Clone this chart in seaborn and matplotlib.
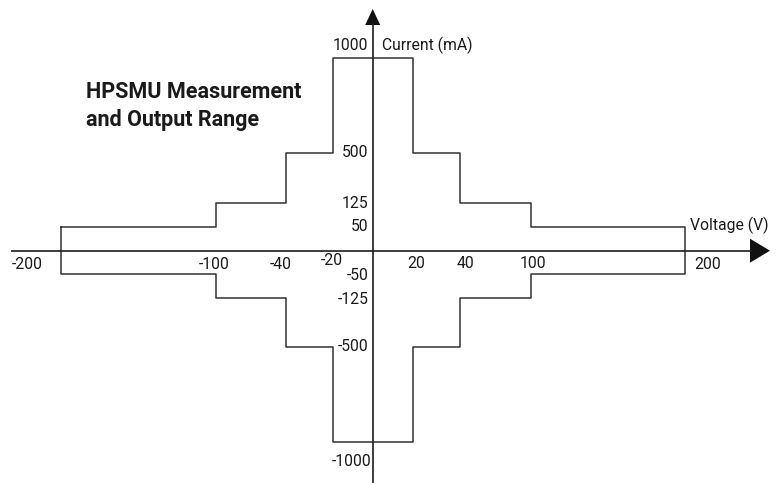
import numpy as np
import pandas as pd
import matplotlib
matplotlib.use("Agg")
import matplotlib.pyplot as plt
import matplotlib.patches as mpatches
import seaborn as sns

# ---------------- data ----------------
voltage_steps = [20, 40, 100, 200]          # V, range boundaries
current_limits = [1000, 500, 125, 50]       # mA, max current in each range
x_tick_labels = ["-200", "-100", "-40", "-20", "20", "40", "100", "200"]
x_tick_values = [-200, -100, -40, -20, 20, 40, 100, 200]
y_tick_labels = ["1000", "500", "125", "50", "-50", "-125", "-500", "-1000"]
y_tick_values = [1000, 500, 125, 50, -50, -125, -500, -1000]
title_text = "HPSMU Measurement\nand Output Range"
x_axis_label = "Voltage (V)"
y_axis_label = "Current (mA)"

# ---------------- build outline polygon from the data ----------------
def outline(vs, cs):
    up = []
    # left side upper staircase (outer -> inner)
    for i in range(len(vs) - 1, -1, -1):
        up.append((-vs[i], cs[i]))
        if i > 0:
            up.append((-vs[i - 1], cs[i]))
    # right side upper staircase (inner -> outer)
    for i in range(len(vs)):
        if i > 0:
            up.append((vs[i - 1], cs[i]))
        up.append((vs[i], cs[i]))
    # lower half mirrored, right -> left
    low = [(x, -y) for (x, y) in up[::-1]]
    poly = up + low + [up[0]]
    return pd.DataFrame(poly, columns=["voltage", "current"])

df = outline(voltage_steps, current_limits)

# ---------------- schematic (non-linear) scales ----------------
X_ANCH_V = np.array([-300, -200, -100, -40, -20, 0, 20, 40, 100, 200, 300], float)
X_ANCH_P = np.array([-466, -311.7, -156.7, -86.7, -39.7, 0, 40.3, 87.3, 158.3, 312.8, 466], float)
Y_ANCH_V = np.array([-1500, -1000, -500, -125, -50, 0, 50, 125, 500, 1000, 1500], float)
Y_ANCH_P = np.array([-287, -191, -96.3, -47, -23, 0, 24, 48, 98, 192.7, 287], float)

def xf(v):
    return np.interp(v, X_ANCH_V, X_ANCH_P)
def xi(p):
    return np.interp(p, X_ANCH_P, X_ANCH_V)
def yf(v):
    return np.interp(v, Y_ANCH_V, Y_ANCH_P)
def yi(p):
    return np.interp(p, Y_ANCH_P, Y_ANCH_V)

W, H = 778, 483
X0, Y0 = 372.7, 250.7   # pixel position of the origin (from top-left)

sns.set_theme(style="white")
plt.rcParams["font.family"] = ["Roboto", "DejaVu Sans"]

fig = plt.figure(figsize=(W / 100, H / 100), dpi=100)
ax = fig.add_axes([0, 0, 1, 1])
ax.set_xscale("function", functions=(xf, xi))
ax.set_yscale("function", functions=(yf, yi))
ax.set_xlim(xi(-X0), xi(W - X0))
ax.set_ylim(yi(-(H - Y0)), yi(Y0))
ax.axis("off")

line_col = "#333333"
sns.lineplot(data=df, x="voltage", y="current", sort=False, estimator=None,
             color=line_col, lw=1.1, ax=ax, legend=False)

def px(x, y):
    return (x / W, 1 - y / H)

axis_col = "#1e1e1e"
# horizontal axis with arrow
ax.plot([px(11, 0)[0], px(752, 0)[0]], [px(0, Y0)[1]] * 2, color=axis_col,
        lw=1.2, transform=ax.transAxes, solid_capstyle="butt")
ax.add_patch(mpatches.Polygon([px(770, Y0), px(750, Y0 - 12), px(750, Y0 + 12)],
                              closed=True, transform=ax.transAxes,
                              facecolor="#111111", edgecolor="none"))
# vertical axis with arrow
ax.plot([px(X0, 0)[0]] * 2, [px(0, 483)[1], px(0, 23)[1]], color=axis_col,
        lw=1.2, transform=ax.transAxes, solid_capstyle="butt")
ax.add_patch(mpatches.Polygon([px(X0, 9), px(X0 - 7.5, 25), px(X0 + 7.5, 25)],
                              closed=True, transform=ax.transAxes,
                              facecolor="#111111", edgecolor="none"))

txt_col = "#1a1a1a"
fs = 11.3
# x tick labels (offsets in pixels relative to the tick point)
x_offsets = [(-34, -13.5), (-1.5, -13.5), (-5.5, -13.5), (-1.5, -9.5),
             (3.5, -12.5), (5.5, -12.5), (1.5, -12.5), (22.5, -13.5)]
for lab, v, off in zip(x_tick_labels, x_tick_values, x_offsets):
    ax.annotate(lab, xy=(v, 0), xytext=off, textcoords="offset pixels",
                ha="center", va="center", fontsize=fs, color=txt_col)

# y tick labels (right aligned just left of the vertical axis)
y_offsets = [(-5, 13), (-4.5, 0), (-4.5, -1.3), (-4.5, -0.3),
             (-4.5, -1.3), (-4.5, -2.3), (-4.5, 0.3), (-1.5, -20)]
for lab, v, off in zip(y_tick_labels, y_tick_values, y_offsets):
    ax.annotate(lab, xy=(0, v), xytext=off, textcoords="offset pixels",
                ha="right", va="center", fontsize=fs, color=txt_col)

# axis titles
ax.annotate(y_axis_label, xy=(0, current_limits[0]), xytext=(9, 13),
            textcoords="offset pixels", ha="left", va="center",
            fontsize=fs, color=txt_col)
ax.annotate(x_axis_label, xy=(voltage_steps[-1], current_limits[-1]), xytext=(4.5, 1.7),
            textcoords="offset pixels", ha="left", va="center",
            fontsize=fs, color=txt_col)

# chart title
ax.text(86 / W, 1 - 106 / H, title_text, transform=ax.transAxes,
        ha="left", va="center", fontsize=15.5, fontweight="bold",
        color="#1a1a1a", linespacing=1.3)

fig.savefig("out.png", dpi=100)
